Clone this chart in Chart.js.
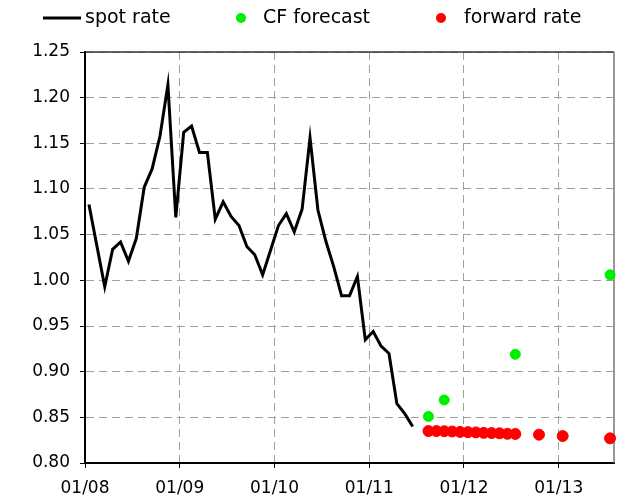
<!DOCTYPE html>
<html>
<head>
<meta charset="utf-8">
<script src="https://cdn.jsdelivr.net/npm/chart.js@4"></script>
<style>
html, body { margin: 0; padding: 0; background: #fff; }
</style>
</head>
<body>
<canvas id="fxChart" width="630" height="495"></canvas>
<script>
// monthly spot rate, starting January 2008
const spotStart = "2008-01";
const spotRate = [1.083, 1.038, 0.993, 1.034, 1.042, 1.021, 1.046, 1.102, 1.122, 1.158,
    1.214, 1.069, 1.162, 1.169, 1.140, 1.140, 1.067, 1.086, 1.070, 1.060,
    1.037, 1.028, 1.006, 1.033, 1.060, 1.073, 1.053, 1.078, 1.156, 1.077,
    1.043, 1.015, 0.983, 0.983, 1.004, 0.935, 0.944, 0.928, 0.920, 0.865,
    0.854, 0.840];

const cfMonths = ["2011-08", "2011-10", "2012-07", "2013-07"];
const cfForecast = [0.851, 0.869, 0.919, 1.006];

const fwdMonths = ["2011-08", "2011-09", "2011-10", "2011-11", "2011-12", "2012-01",
    "2012-02", "2012-03", "2012-04", "2012-05", "2012-06", "2012-07",
    "2012-10", "2013-01", "2013-07"];
const fwdRate = [0.835, 0.835, 0.8348, 0.8345, 0.834, 0.8338, 0.8335, 0.833,
    0.8328, 0.8325, 0.832, 0.8318, 0.831, 0.8295, 0.827];

const yearLabels = ["01/08", "01/09", "01/10", "01/11", "01/12", "01/13"];
const yTicks = [0.80, 0.85, 0.90, 0.95, 1.00, 1.05, 1.10, 1.15, 1.20, 1.25];

// months since Jan 2008, plotted mid-month
function monthPos(ym) {
    const parts = ym.split("-");
    return (parseInt(parts[0]) - 2008) * 12 + (parseInt(parts[1]) - 1) + 0.5;
}

const spotOffset = monthPos(spotStart);
const spotData = spotRate.map((v, i) => ({ x: spotOffset + i, y: v }));
const cfData = cfForecast.map((v, i) => ({ x: monthPos(cfMonths[i]), y: v }));
const fwdData = fwdRate.map((v, i) => ({ x: monthPos(fwdMonths[i]), y: v }));

const FONT = "DejaVu Sans";

// legend drawn along the top, like the original
const topLegend = {
    id: "topLegend",
    afterDraw(chart) {
        const ctx = chart.ctx;
        const ds = chart.data.datasets;
        const y = 18;
        ctx.save();
        ctx.font = "19px '" + FONT + "'";
        ctx.textBaseline = "middle";
        ctx.fillStyle = "#000";

        ctx.strokeStyle = "#000";
        ctx.lineWidth = 3;
        ctx.beginPath();
        ctx.moveTo(43, y);
        ctx.lineTo(81, y);
        ctx.stroke();
        ctx.fillText(ds[0].label, 85, y);

        ctx.fillStyle = ds[1].backgroundColor;
        ctx.beginPath();
        ctx.arc(241, y, 5, 0, Math.PI * 2);
        ctx.fill();
        ctx.fillStyle = "#000";
        ctx.fillText(ds[1].label, 263, y);

        ctx.fillStyle = ds[2].backgroundColor;
        ctx.beginPath();
        ctx.arc(441, y, 5, 0, Math.PI * 2);
        ctx.fill();
        ctx.fillStyle = "#000";
        ctx.fillText(ds[2].label, 464, y);
        ctx.restore();
    }
};

// top and right frame of the plot area
const frame = {
    id: "frame",
    beforeDatasetsDraw(chart) {
        const a = chart.chartArea;
        const ctx = chart.ctx;
        ctx.save();
        ctx.lineWidth = 1.5;
        ctx.strokeStyle = "#333";
        ctx.beginPath();
        ctx.moveTo(a.left, a.top);
        ctx.lineTo(a.right, a.top);
        ctx.stroke();
        ctx.strokeStyle = "#777";
        ctx.beginPath();
        ctx.moveTo(a.right, a.top);
        ctx.lineTo(a.right, a.bottom);
        ctx.stroke();
        ctx.restore();
    }
};

const ctx = document.getElementById("fxChart").getContext("2d");

new Chart(ctx, {
    type: "scatter",
    data: {
        datasets: [{
            label: "spot rate",
            data: spotData,
            showLine: true,
            borderColor: "#000",
            backgroundColor: "#000",
            borderWidth: 3,
            pointRadius: 0,
            tension: 0
        }, {
            label: "CF forecast",
            data: cfData,
            backgroundColor: "#00ee00",
            borderColor: "#00ee00",
            pointRadius: 5,
            clip: false
        }, {
            label: "forward rate",
            data: fwdData,
            backgroundColor: "#ff0000",
            borderColor: "#ff0000",
            pointRadius: 5.5,
            clip: false
        }]
    },
    options: {
        responsive: false,
        animation: false,
        devicePixelRatio: 1,
        layout: {
            padding: { top: 52, right: 16, left: 0, bottom: 0 }
        },
        plugins: {
            legend: { display: false },
            tooltip: { enabled: false }
        },
        scales: {
            x: {
                type: "linear",
                min: 0,
                max: 67,
                afterBuildTicks: function(scale) {
                    scale.ticks = yearLabels.map((_, i) => ({ value: i * 12 }));
                },
                afterFit: function(scale) {
                    scale.height = 32;
                },
                ticks: {
                    autoSkip: false,
                    maxRotation: 0,
                    padding: 10,
                    color: "#000",
                    font: { family: FONT, size: 17 },
                    callback: function(v) {
                        return yearLabels[Math.round(v / 12)];
                    }
                },
                grid: {
                    color: "#a0a0a0",
                    lineWidth: 1,
                    tickColor: "#000",
                    tickLength: 5,
                    tickBorderDash: []
                },
                border: {
                    color: "#000",
                    width: 2,
                    dash: [8, 5]
                }
            },
            y: {
                min: 0.8,
                max: 1.25,
                afterBuildTicks: function(scale) {
                    scale.ticks = yTicks.map(v => ({ value: v }));
                },
                afterFit: function(scale) {
                    scale.width = 85;
                },
                ticks: {
                    padding: 10,
                    color: "#000",
                    font: { family: FONT, size: 17 },
                    callback: function(v) {
                        return v.toFixed(2);
                    }
                },
                grid: {
                    color: "#a0a0a0",
                    lineWidth: 1,
                    tickColor: "#000",
                    tickLength: 5,
                    tickBorderDash: []
                },
                border: {
                    color: "#000",
                    width: 2,
                    dash: [8, 5]
                }
            }
        }
    },
    plugins: [frame, topLegend]
});
</script>
</body>
</html>
